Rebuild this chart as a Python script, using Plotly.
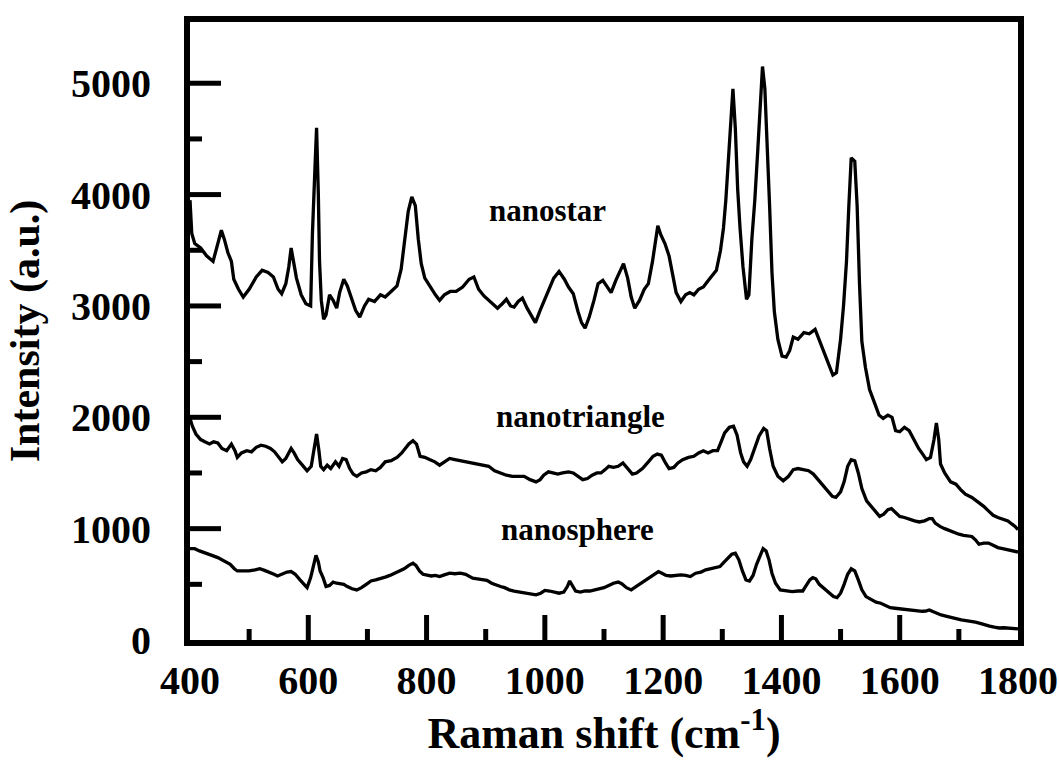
import plotly.graph_objects as go

# ---------------- data ----------------
star_x = [400, 403, 408, 418, 428, 439, 447, 453, 458, 464, 470, 474, 482, 490, 500, 512, 522, 532, 541, 549,
          555, 562, 567, 571, 575, 580, 588, 596, 604, 607, 611, 614, 617, 619, 622, 626, 630, 636, 642, 648,
          653, 660, 666, 672, 680, 687, 695, 702, 712, 722, 730, 740, 750, 757, 763, 769, 775, 781, 786, 791,
          797, 805, 815, 822, 830, 840, 850, 861, 872, 880, 888, 897, 905, 913, 920, 928, 935, 942, 948, 955,
          962, 970, 978, 984, 992, 1000, 1006, 1015, 1024, 1033, 1040, 1048, 1056, 1062, 1068, 1075, 1083, 1090, 1098, 1104,
          1112, 1120, 1127, 1133, 1140, 1146, 1152, 1160, 1168, 1175, 1182, 1187, 1191, 1196, 1203, 1210, 1216, 1222, 1230, 1238,
          1245, 1252, 1260, 1268, 1275, 1283, 1290, 1297, 1302, 1306, 1310, 1314, 1318, 1322, 1326, 1330, 1335, 1341, 1345, 1350,
          1355, 1360, 1364, 1368, 1372, 1376, 1380, 1384, 1388, 1394, 1401, 1408, 1414, 1420, 1428, 1438, 1447, 1457, 1462, 1470,
          1478, 1487, 1493, 1500, 1505, 1510, 1514, 1518, 1524, 1528, 1532, 1536, 1542, 1549, 1556, 1565, 1572, 1580, 1587, 1593,
          1600, 1608, 1616, 1624, 1632, 1640, 1645, 1652, 1658, 1662, 1666, 1669, 1676, 1686, 1695, 1703, 1711, 1722, 1733, 1742,
          1750, 1758, 1766, 1775, 1783, 1790, 1795, 1800]
star_y = [3950, 3650, 3560, 3520, 3450, 3400, 3560, 3680, 3600, 3480, 3400, 3240, 3150, 3080, 3150, 3260, 3320, 3300, 3260, 3150,
          3110, 3200, 3350, 3520, 3400, 3250, 3100, 3020, 3000, 3650, 4200, 4600, 4000, 3400, 3050, 2880, 2920, 3100, 3050, 2980,
          3120, 3240, 3180, 3080, 2960, 2900, 3000, 3060, 3040, 3100, 3080, 3130, 3180, 3330, 3600, 3850, 3980, 3900, 3600, 3380,
          3250, 3180, 3100, 3050, 3100, 3130, 3130, 3170, 3240, 3260, 3150, 3090, 3050, 3010, 2980, 3020, 3060, 3000, 2990, 3040,
          3070, 2980, 2900, 2850, 2960, 3060, 3130, 3250, 3310, 3240, 3170, 3110, 2950, 2850, 2800, 2900, 3050, 3200, 3230, 3180,
          3120, 3230, 3320, 3380, 3250, 3080, 2980, 3050, 3150, 3200, 3400, 3600, 3720, 3640, 3560, 3450, 3300, 3120, 3040, 3100,
          3120, 3100, 3150, 3170, 3220, 3270, 3320, 3500, 3700, 3950, 4250, 4600, 4950, 4600, 4050, 3700, 3350, 3060, 3100, 3600,
          3950, 4400, 4800, 5150, 4950, 4500, 3900, 3300, 2950, 2700, 2550, 2540, 2600, 2720, 2700, 2760, 2750, 2790, 2720, 2600,
          2500, 2380, 2400, 2700, 3000, 3400, 3900, 4330, 4300, 3900, 3200, 2680, 2450, 2250, 2150, 2020, 1990, 2020, 2000, 1880,
          1870, 1910, 1880, 1800, 1720, 1660, 1620, 1640, 1800, 1950, 1800, 1580, 1500, 1420, 1400, 1350, 1310, 1280, 1240, 1200,
          1160, 1120, 1100, 1080, 1070, 1040, 1020, 990]

tri_x = [400, 404, 410, 418, 425, 433, 440, 447, 454, 462, 470, 476, 480, 487, 496, 504, 512, 520, 528, 536,
         543, 550, 556, 562, 567, 571, 576, 582, 590, 598, 605, 610, 614, 618, 621, 626, 632, 638, 646, 652,
         658, 664, 670, 676, 682, 690, 698, 706, 714, 722, 730, 740, 750, 758, 764, 770, 777, 783, 789, 797,
         805, 814, 822, 830, 839, 848, 857, 866, 875, 885, 895, 905, 915, 925, 935, 945, 955, 965, 975, 985,
         992, 998, 1006, 1014, 1022, 1030, 1040, 1048, 1056, 1064, 1072, 1080, 1088, 1095, 1102, 1108, 1116, 1124, 1132, 1140,
         1148, 1155, 1165, 1175, 1183, 1190, 1197, 1204, 1210, 1218, 1225, 1233, 1243, 1252, 1260, 1268, 1276, 1284, 1292, 1298,
         1304, 1312, 1319, 1325, 1331, 1336, 1342, 1348, 1355, 1362, 1370, 1375, 1380, 1386, 1394, 1403, 1412, 1420, 1428, 1437,
         1446, 1454, 1462, 1470, 1478, 1486, 1492, 1500, 1506, 1512, 1518, 1524, 1530, 1536, 1544, 1552, 1560, 1566, 1573, 1580,
         1586, 1593, 1600, 1608, 1617, 1625, 1633, 1642, 1650, 1655, 1660, 1668, 1676, 1685, 1692, 1700, 1708, 1716, 1722, 1728,
         1734, 1742, 1750, 1758, 1766, 1774, 1782, 1790, 1800]
tri_y = [1990, 1920, 1850, 1800, 1780, 1760, 1780, 1770, 1720, 1700, 1760, 1700, 1640, 1680, 1700, 1690, 1730, 1750, 1740, 1720,
         1690, 1640, 1600, 1630, 1680, 1720, 1680, 1620, 1570, 1520, 1560, 1700, 1850, 1700, 1560, 1530, 1570, 1540, 1600, 1560,
         1630, 1620, 1540, 1490, 1470, 1500, 1510, 1530, 1520, 1550, 1600, 1610, 1640, 1680, 1720, 1760, 1790, 1760, 1650, 1640,
         1620, 1600, 1570, 1600, 1630, 1620, 1610, 1600, 1590, 1580, 1570, 1560, 1520, 1500, 1480, 1470, 1470, 1470, 1440, 1420,
         1440, 1480, 1510, 1500, 1490, 1500, 1510, 1500, 1470, 1440, 1450, 1480, 1500, 1500, 1530, 1560, 1550, 1560, 1590, 1540,
         1490, 1500, 1540, 1600, 1650, 1670, 1660, 1590, 1540, 1550, 1590, 1620, 1640, 1650, 1680, 1700, 1680, 1700, 1700, 1780,
         1860, 1910, 1920, 1840, 1680, 1600, 1560, 1620, 1720, 1830, 1900, 1880, 1720, 1560, 1470, 1430, 1470, 1530, 1540, 1530,
         1520, 1490, 1440, 1390, 1340, 1290, 1280, 1330, 1420, 1560, 1620, 1610, 1500, 1360, 1250, 1200, 1140, 1110, 1130, 1170,
         1180, 1140, 1110, 1100, 1080, 1070, 1060, 1070, 1090, 1090, 1050, 1020, 1000, 980, 960, 950, 940, 935, 930, 900,
         860, 870, 870, 850, 830, 820, 810, 800, 790]

sph_x = [400, 408, 416, 425, 437, 447, 459, 468, 475, 480, 490, 500, 510, 518, 526, 534, 542, 548, 556, 564,
         571, 578, 586, 592, 598, 604, 609, 613, 617, 620, 625, 630, 636, 642, 648, 654, 660, 666, 674, 682,
         690, 698, 706, 714, 722, 730, 738, 746, 754, 762, 770, 777, 782, 788, 794, 801, 808, 815, 822, 830,
         839, 848, 857, 866, 872, 878, 886, 894, 902, 910, 918, 925, 932, 940, 948, 958, 966, 975, 985, 993,
         1000, 1008, 1016, 1024, 1032, 1038, 1042, 1047, 1052, 1060, 1068, 1076, 1084, 1092, 1100, 1108, 1116, 1124, 1130, 1138,
         1146, 1154, 1162, 1170, 1178, 1186, 1192, 1198, 1205, 1213, 1222, 1230, 1238, 1246, 1255, 1264, 1272, 1280, 1288, 1296,
         1303, 1310, 1316, 1322, 1328, 1334, 1340, 1346, 1352, 1358, 1364, 1369, 1374, 1379, 1384, 1390, 1398, 1408, 1418, 1428,
         1436, 1442, 1448, 1453, 1458, 1464, 1472, 1480, 1488, 1494, 1500, 1506, 1512, 1518, 1524, 1530, 1536, 1543, 1552, 1560,
         1568, 1576, 1584, 1592, 1600, 1610, 1620, 1630, 1638, 1644, 1650, 1656, 1662, 1670, 1678, 1688, 1696, 1704, 1712, 1720,
         1728, 1736, 1744, 1752, 1760, 1768, 1776, 1784, 1792, 1800]
sph_y = [820, 820, 800, 780, 760, 740, 710, 680, 640, 620, 620, 620, 630, 640, 625, 610, 590, 575, 595, 610,
         615, 590, 540, 500, 470, 560, 680, 760, 700, 620, 560, 480, 490, 520, 510, 505, 500, 480, 460, 450,
         470, 500, 530, 540, 550, 565, 580, 600, 620, 640, 670, 690, 670, 620, 590, 580, 575, 580, 570, 585,
         600, 595, 600, 590, 570, 555, 550, 540, 535, 510, 490, 480, 470, 450, 440, 430, 420, 410, 405, 420,
         445, 440, 430, 420, 430, 480, 530, 490, 440, 430, 440, 440, 450, 460, 470, 490, 510, 520, 505, 470,
         450, 480, 510, 540, 570, 600, 615, 600, 580, 575, 580, 585, 580, 570, 600, 610, 630, 640, 645, 660,
         700, 740, 770, 780, 720, 620, 540, 530, 580, 680, 760, 820, 800, 720, 600, 510, 450, 440, 435, 440,
         440, 490, 540, 560, 550, 500, 460, 420, 390, 380, 420, 500, 590, 640, 620, 540, 450, 390, 360, 340,
         330, 310, 290, 285, 280, 270, 265, 260, 258, 260, 270, 255, 240, 225, 215, 200, 185, 180, 175, 170,
         160, 150, 135, 125, 115, 108, 110, 108, 105, 100]

series_names = ["nanostar", "nanotriangle", "nanosphere"]
x_ticks = [400, 600, 800, 1000, 1200, 1400, 1600, 1800]
y_ticks = [0, 1000, 2000, 3000, 4000, 5000]

FONT = "Liberation Serif"
X_RANGE = [x_ticks[0], x_ticks[-1]]
Y_RANGE = [0, 5550]

fig = go.Figure()
for name, xs, ys in [(series_names[0], star_x, star_y),
                     (series_names[1], tri_x, tri_y),
                     (series_names[2], sph_x, sph_y)]:
    fig.add_trace(go.Scatter(x=xs, y=ys, mode="lines", name=name,
                             line=dict(color="black", width=3.3), showlegend=False))

# curve labels
label_pos = {"nanostar": (1005, 3855), "nanotriangle": (1061, 2004), "nanosphere": (1056, 993)}
for name in series_names:
    lx, ly = label_pos[name]
    fig.add_annotation(x=lx, y=ly, xref="x", yref="y", text=name, showarrow=False,
                       xanchor="center", yanchor="middle",
                       font=dict(family=FONT, size=31, color="black", weight="bold"))

# inward tick marks (major every tick step, minor at half steps), pixel lengths
xdt = x_ticks[1] - x_ticks[0]
ydt = y_ticks[1] - y_ticks[0]
TICK_W = 5
for i in range(1, 2 * (len(x_ticks) - 1)):
    v = x_ticks[0] + i * xdt / 2
    length = 25 if i % 2 == 0 else 11
    fig.add_shape(type="line", xref="x", x0=v, x1=v, yref="paper", ysizemode="pixel",
                  yanchor=0, y0=0, y1=length, line=dict(color="black", width=TICK_W))
for i in range(1, 2 * (len(y_ticks) - 1) + 1):
    v = y_ticks[0] + i * ydt / 2
    length = 31 if i % 2 == 0 else 12
    fig.add_shape(type="line", yref="y", y0=v, y1=v, xref="paper", xsizemode="pixel",
                  xanchor=0, x0=0, x1=length, line=dict(color="black", width=TICK_W))

fig.update_layout(
    xaxis=dict(range=X_RANGE, tickmode="array", tickvals=x_ticks, ticktext=[str(v) for v in x_ticks],
               ticks="", showline=True, linewidth=6, linecolor="black", mirror=True,
               showgrid=False, zeroline=False,
               tickfont=dict(family=FONT, size=40, color="black", weight="bold"),
               title=dict(text="Raman shift (cm<sup>-1</sup>)", standoff=12,
                          font=dict(family=FONT, size=44, color="black", weight="bold"))),
    yaxis=dict(range=Y_RANGE, tickmode="array", tickvals=y_ticks, ticktext=[str(v) for v in y_ticks],
               ticks="", showline=True, linewidth=6, linecolor="black", mirror=True,
               showgrid=False, zeroline=False, ticklabelstandoff=25,
               tickfont=dict(family=FONT, size=40, color="black", weight="bold"),
               title=dict(text="Intensity (a.u.)", standoff=20,
                          font=dict(family=FONT, size=42, color="black", weight="bold"))),
    width=1059, height=767, plot_bgcolor="white", paper_bgcolor="white",
    margin=dict(l=190, r=41, t=22, b=127, autoexpand=False))

fig.write_html("out.html")
